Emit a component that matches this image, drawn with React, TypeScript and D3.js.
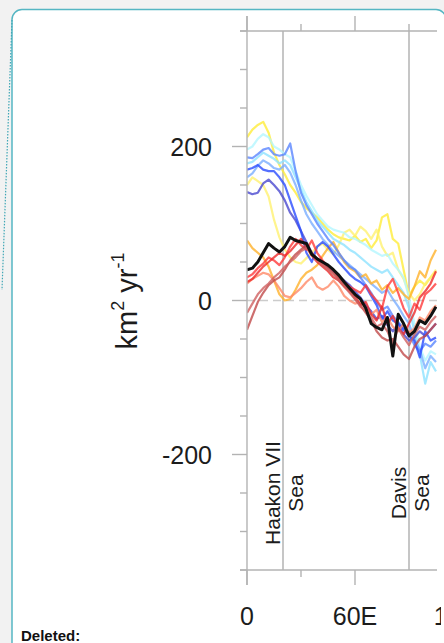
import React from 'react';
import * as d3 from 'd3';

// longitude grid (degrees east)
const lon = [0, 3, 6, 9, 12, 15, 18, 21, 24, 27, 30, 33, 36, 39, 42, 45, 48, 51, 54, 57, 60, 63, 66, 69, 72, 75, 78, 81, 84, 87, 90, 93, 96, 99, 102, 105];

// ensemble members, km2 yr-1
const yellowHigh = [212, 222, 228, 232, 218, 192, 176, 164, 150, 140, 128, 120, 114, 108, 100, 92, 86, 82, 80, 78, 84, 76, 80, 68, 78, 108, 112, 80, 74, 40, 6, 18, 26, 20, 30, 38];
const yellowLow = [150, 160, 155, 150, 135, 105, 82, 66, 56, 50, 48, 55, 62, 70, 74, 66, 60, 72, 88, 92, 84, 96, 90, 80, 92, 70, 58, 62, 40, 28, 10, 0, 8, 22, 30, 40];
const cyanLight = [196, 200, 210, 216, 212, 200, 196, 190, 186, 168, 150, 136, 124, 112, 104, 96, 92, 90, 88, 82, 80, 76, 72, 66, 62, 58, 60, 48, 40, 30, 4, -30, -60, -78, -66, -70];
const cyan = [178, 180, 186, 192, 188, 184, 178, 182, 176, 160, 144, 128, 116, 104, 96, 88, 80, 76, 72, 66, 62, 56, 50, 44, 40, 36, 40, 30, 20, 10, -10, -40, -70, -108, -80, -92];
const blueLight = [160, 165, 175, 182, 178, 172, 170, 176, 166, 150, 130, 112, 100, 90, 80, 72, 64, 58, 52, 46, 40, 34, 28, 22, 16, 10, 14, 2, -8, -20, -30, -50, -64, -88, -72, -80];
const blueMid = [186, 185, 190, 196, 198, 190, 188, 190, 204, 168, 140, 124, 112, 100, 90, 80, 72, 62, 52, 44, 40, 30, 20, 10, -2, -12, -8, -20, -28, -36, -42, -58, -66, -56, -60, -52];
const blueStrong = [170, 172, 176, 170, 168, 168, 160, 150, 130, 110, 90, 62, 50, 70, 76, 70, 60, 50, 42, 34, 28, 24, 18, 6, -6, -24, -14, -26, -30, -38, -46, -52, -74, -40, -52, -48];
const indigo = [141, 138, 140, 152, 157, 150, 142, 130, 114, 104, 90, 76, 62, 54, 50, 44, 38, 32, 26, 20, 12, 4, -6, -14, -24, -20, -32, -40, -30, -44, -52, -48, -40, -46, -38, -30];
const orange = [78, 68, 62, 56, 44, 26, 8, 0, 2, 14, 28, 36, 40, 46, 58, 68, 76, 62, 50, 42, 38, 30, 34, 22, 26, 14, 20, 10, 16, 8, 2, 18, 38, 30, 52, 66];
const salmon = [22, 28, 32, 36, 34, 26, 16, 6, 4, 10, 16, 24, 30, 18, 14, 18, 26, 18, 6, 0, -4, -2, -10, -18, -12, -28, -22, -34, -40, -30, -42, -36, -22, -26, -14, -6];
const redA = [30, 34, 42, 48, 56, 52, 46, 56, 70, 80, 72, 66, 78, 62, 52, 44, 40, 30, 24, 18, 14, 10, 20, 8, 0, -10, 18, 28, 10, -10, -22, -4, -12, 8, 14, 22];
const redB = [24, 28, 36, 44, 50, 56, 62, 58, 64, 72, 80, 70, 58, 50, 44, 38, 30, 26, 18, 12, 6, -6, -2, -18, -26, -8, -30, -20, -36, -44, -30, -16, 4, 12, 22, 38];
const darkRedA = [-38, -20, -2, 10, 20, 26, 30, 40, 52, 60, 66, 72, 62, 54, 48, 42, 36, 28, 20, 12, 2, -6, -16, -26, -40, -48, -52, -50, -60, -70, -76, -60, -50, -46, -38, -30];
const darkRedB = [-16, -4, 8, 16, 22, 30, 36, 44, 50, 56, 64, 68, 60, 52, 46, 40, 34, 26, 18, 10, 2, -8, -14, -22, -34, -30, -40, -56, -36, -48, -58, -44, -34, -38, -28, -20];
const ensembleMean = [40, 42, 50, 62, 74, 68, 63, 70, 82, 78, 76, 74, 60, 54, 50, 46, 40, 33, 24, 16, 8, 2, -10, -30, -35, -38, -22, -72, -18, -30, -46, -40, -26, -30, -20, -8];

const yTicks = [-350, -300, -250, -200, -150, -100, -50, 0, 50, 100, 150, 200, 250, 300, 350];
const yLabels = [200, 0, -200];
const xMajor = [0, 60, 120];
const xMinor = [30, 90];
const xLabels = ['0', '60E', '120E'];
const seaLon = [20, 90];
const seaNames = [['Haakon VII', 'Sea'], ['Davis', 'Sea']];

const members = [
  { values: yellowHigh, color: '#ffec3a' },
  { values: yellowLow, color: '#fff170' },
  { values: cyanLight, color: '#b4f6ff' },
  { values: cyan, color: '#8fe2ff' },
  { values: blueLight, color: '#7aaeff' },
  { values: orange, color: '#ffb22a' },
  { values: blueMid, color: '#5a86ff' },
  { values: indigo, color: '#4a48cf' },
  { values: blueStrong, color: '#2a4cff' },
  { values: salmon, color: '#ff8a68' },
  { values: redA, color: '#ff3b3b' },
  { values: redB, color: '#ee2a2a' },
  { values: darkRedA, color: '#c04a4a' },
  { values: darkRedB, color: '#d06060' },
];

const font = '"Liberation Sans", Arial, Helvetica, sans-serif';
const axisColor = '#b3b3b3';

export default function App() {
  const x = d3.scaleLinear().domain([0, 60]).range([247, 355]);
  const y = d3.scaleLinear().domain([-350, 350]).range([570, 31]);
  const line = d3.line<number>()
    .x((_, i) => x(lon[i]))
    .y(d => y(d));

  const left = x(0);
  const right = 437;
  const top = y(350);
  const bottom = y(-350);

  return (
    <svg width={444} height={643} style={{ position: 'absolute', left: 0, top: 0 }}>
      <defs>
        <clipPath id="plot">
          <rect x={left} y={top} width={right - left} height={bottom - top} />
        </clipPath>
        <clipPath id="box">
          <rect x={12} y={9} width={429} height={640} />
        </clipPath>
      </defs>
      <rect width={444} height={643} fill="#f2f2f2" />
      <rect x={12} y={9.5} width={434} height={650} rx={10} fill="#fff" stroke="#55b6c3" strokeWidth={1.5} />
      <line x1={12} y1={20} x2={2} y2={290} stroke="#3fa6b5" strokeWidth={1.2} strokeDasharray="1.5,1.5" />

      <g clipPath="url(#box)">
        {/* sea boundaries */}
        {seaLon.map(s => (
          <line key={s} x1={x(s)} x2={x(s)} y1={top} y2={bottom} stroke={axisColor} strokeWidth={1.5} />
        ))}

        {/* zero line */}
        <line x1={left} x2={right} y1={y(0)} y2={y(0)} stroke="#cccccc" strokeWidth={1.6} strokeDasharray="8,5" />

        <g clipPath="url(#plot)" fill="none" strokeLinejoin="round">
          {members.map((m, i) => (
            <path key={i} d={line(m.values) || ''} stroke={m.color} strokeWidth={2.2} opacity={0.8} />
          ))}
          <path d={line(ensembleMean) || ''} stroke="#111" strokeWidth={3} />
        </g>

        {/* axes */}
        <line x1={left} x2={left} y1={top - 15} y2={bottom + 15} stroke={axisColor} strokeWidth={1.4} />
        <line x1={left - 7} x2={right} y1={top} y2={top} stroke={axisColor} strokeWidth={1.4} />
        <line x1={left - 7} x2={right} y1={bottom} y2={bottom} stroke={axisColor} strokeWidth={1.4} />
        {yTicks.map(t => (
          <line key={t} x1={left - (yLabels.includes(t) ? 15 : 7)} x2={left} y1={y(t)} y2={y(t)} stroke={axisColor} strokeWidth={1.4} />
        ))}
        {xMajor.map(t => (
          <g key={t}>
            <line x1={x(t)} x2={x(t)} y1={top - 15} y2={top} stroke={axisColor} strokeWidth={1.4} />
            <line x1={x(t)} x2={x(t)} y1={bottom} y2={bottom + 15} stroke={axisColor} strokeWidth={1.4} />
          </g>
        ))}
        {xMinor.map(t => (
          <g key={t}>
            <line x1={x(t)} x2={x(t)} y1={top - 7} y2={top} stroke={axisColor} strokeWidth={1.4} />
            {t === 30 && <line x1={x(t)} x2={x(t)} y1={bottom} y2={bottom + 7} stroke={axisColor} strokeWidth={1.4} />}
          </g>
        ))}

        {/* labels */}
        <g fontFamily={font} fill="#1c1c1c">
          {yLabels.map(t => (
            <text key={t} x={212} y={y(t) + 9} fontSize={25} textAnchor="end">{t}</text>
          ))}
          {xMajor.map((t, i) => (
            <text key={t} x={x(t)} y={625} fontSize={25} textAnchor="middle">{xLabels[i]}</text>
          ))}
          <text transform="translate(137,301) rotate(-90)" fontSize={29} textAnchor="middle">
            km<tspan fontSize={18} dy={-13}>2</tspan><tspan dy={13}> yr</tspan><tspan fontSize={18} dy={-13}>-1</tspan>
          </text>
          {seaLon.map((s, i) => (
            <g key={s} fontSize={21}>
              <text transform={`translate(${x(s) - 3.5},493) rotate(-90)`} textAnchor="middle">{seaNames[i][0]}</text>
              <text transform={`translate(${x(s) + 19.5},493) rotate(-90)`} textAnchor="middle">{seaNames[i][1]}</text>
            </g>
          ))}
        </g>
      </g>

      <text x={21} y={641} fontFamily={font} fontWeight="bold" fontSize={15} fill="#111">Deleted:</text>
    </svg>
  );
}
